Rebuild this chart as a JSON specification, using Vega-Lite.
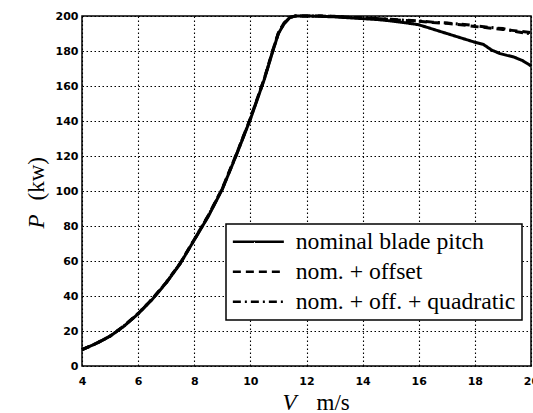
{
  "$schema": "https://vega.github.io/schema/vega-lite/v6.json",
  "width": 449,
  "height": 350,
  "autosize": {"type": "none"},
  "padding": {"left": 82, "top": 16, "right": 2, "bottom": 47},
  "background": "white",
  "config": {
    "view": {"stroke": "black", "strokeWidth": 1.5},
    "axis": {
      "labelFont": "DejaVu Sans",
      "labelFontWeight": "bold",
      "labelFontSize": 11,
      "labelColor": "black",
      "labelFlush": false,
      "labelOverlap": false,
      "labelBound": false,
      "grid": true,
      "gridColor": "black",
      "gridDash": [1.5, 2.5],
      "gridWidth": 1.1,
      "gridOpacity": 1,
      "domain": false,
      "ticks": false,
      "titleFont": "Liberation Serif",
      "titleFontSize": 23,
      "titleFontWeight": "normal",
      "titleColor": "black"
    }
  },
  "data": {
    "values": [
      {"series": "nominal blade pitch", "V": 4, "P": 9.3},
      {"series": "nominal blade pitch", "V": 4.5, "P": 12.8},
      {"series": "nominal blade pitch", "V": 5, "P": 17},
      {"series": "nominal blade pitch", "V": 5.5, "P": 22.8},
      {"series": "nominal blade pitch", "V": 6, "P": 29.8},
      {"series": "nominal blade pitch", "V": 6.5, "P": 38},
      {"series": "nominal blade pitch", "V": 7, "P": 47.5},
      {"series": "nominal blade pitch", "V": 7.5, "P": 58.5},
      {"series": "nominal blade pitch", "V": 8, "P": 72},
      {"series": "nominal blade pitch", "V": 8.5, "P": 85.5},
      {"series": "nominal blade pitch", "V": 9, "P": 101},
      {"series": "nominal blade pitch", "V": 9.5, "P": 120.5},
      {"series": "nominal blade pitch", "V": 10, "P": 141},
      {"series": "nominal blade pitch", "V": 10.5, "P": 164},
      {"series": "nominal blade pitch", "V": 10.8, "P": 180},
      {"series": "nominal blade pitch", "V": 11, "P": 190},
      {"series": "nominal blade pitch", "V": 11.2, "P": 195.5},
      {"series": "nominal blade pitch", "V": 11.4, "P": 199},
      {"series": "nominal blade pitch", "V": 11.6, "P": 200},
      {"series": "nominal blade pitch", "V": 12, "P": 200},
      {"series": "nominal blade pitch", "V": 12.5, "P": 199.8},
      {"series": "nominal blade pitch", "V": 13, "P": 199.5},
      {"series": "nominal blade pitch", "V": 13.5, "P": 199},
      {"series": "nominal blade pitch", "V": 14, "P": 198.5},
      {"series": "nominal blade pitch", "V": 14.5, "P": 198},
      {"series": "nominal blade pitch", "V": 15, "P": 197.2},
      {"series": "nominal blade pitch", "V": 15.5, "P": 196.2},
      {"series": "nominal blade pitch", "V": 16, "P": 195},
      {"series": "nominal blade pitch", "V": 16.5, "P": 192.5},
      {"series": "nominal blade pitch", "V": 17, "P": 190},
      {"series": "nominal blade pitch", "V": 17.5, "P": 187.5},
      {"series": "nominal blade pitch", "V": 18, "P": 185},
      {"series": "nominal blade pitch", "V": 18.3, "P": 183.8},
      {"series": "nominal blade pitch", "V": 18.6, "P": 180.5},
      {"series": "nominal blade pitch", "V": 18.9, "P": 178.5},
      {"series": "nominal blade pitch", "V": 19.4, "P": 176.5},
      {"series": "nominal blade pitch", "V": 19.7, "P": 174.5},
      {"series": "nominal blade pitch", "V": 20, "P": 171.5},

      {"series": "nom. + offset", "V": 4, "P": 9.4},
      {"series": "nom. + offset", "V": 4.5, "P": 12.9},
      {"series": "nom. + offset", "V": 5, "P": 17.1},
      {"series": "nom. + offset", "V": 5.5, "P": 23},
      {"series": "nom. + offset", "V": 6, "P": 30},
      {"series": "nom. + offset", "V": 6.5, "P": 38.3},
      {"series": "nom. + offset", "V": 7, "P": 47.8},
      {"series": "nom. + offset", "V": 7.5, "P": 58.8},
      {"series": "nom. + offset", "V": 8, "P": 72.3},
      {"series": "nom. + offset", "V": 8.5, "P": 86},
      {"series": "nom. + offset", "V": 9, "P": 101.5},
      {"series": "nom. + offset", "V": 9.5, "P": 121},
      {"series": "nom. + offset", "V": 10, "P": 141.5},
      {"series": "nom. + offset", "V": 10.5, "P": 164.5},
      {"series": "nom. + offset", "V": 10.8, "P": 180.5},
      {"series": "nom. + offset", "V": 11, "P": 190.5},
      {"series": "nom. + offset", "V": 11.2, "P": 196},
      {"series": "nom. + offset", "V": 11.4, "P": 199.2},
      {"series": "nom. + offset", "V": 11.6, "P": 200},
      {"series": "nom. + offset", "V": 12, "P": 200},
      {"series": "nom. + offset", "V": 12.5, "P": 200},
      {"series": "nom. + offset", "V": 13, "P": 199.8},
      {"series": "nom. + offset", "V": 13.5, "P": 199.3},
      {"series": "nom. + offset", "V": 14, "P": 199},
      {"series": "nom. + offset", "V": 14.5, "P": 198.5},
      {"series": "nom. + offset", "V": 15, "P": 198},
      {"series": "nom. + offset", "V": 15.5, "P": 197.5},
      {"series": "nom. + offset", "V": 16, "P": 197},
      {"series": "nom. + offset", "V": 16.5, "P": 196.3},
      {"series": "nom. + offset", "V": 17, "P": 195.8},
      {"series": "nom. + offset", "V": 17.5, "P": 195},
      {"series": "nom. + offset", "V": 18, "P": 194},
      {"series": "nom. + offset", "V": 18.5, "P": 193.2},
      {"series": "nom. + offset", "V": 19, "P": 192.3},
      {"series": "nom. + offset", "V": 19.5, "P": 191.5},
      {"series": "nom. + offset", "V": 20, "P": 190.5},

      {"series": "nom. + off. + quadratic", "V": 4, "P": 9.3},
      {"series": "nom. + off. + quadratic", "V": 4.5, "P": 12.8},
      {"series": "nom. + off. + quadratic", "V": 5, "P": 17},
      {"series": "nom. + off. + quadratic", "V": 5.5, "P": 22.9},
      {"series": "nom. + off. + quadratic", "V": 6, "P": 29.9},
      {"series": "nom. + off. + quadratic", "V": 6.5, "P": 38.2},
      {"series": "nom. + off. + quadratic", "V": 7, "P": 47.6},
      {"series": "nom. + off. + quadratic", "V": 7.5, "P": 58.6},
      {"series": "nom. + off. + quadratic", "V": 8, "P": 72.1},
      {"series": "nom. + off. + quadratic", "V": 8.5, "P": 85.8},
      {"series": "nom. + off. + quadratic", "V": 9, "P": 101.2},
      {"series": "nom. + off. + quadratic", "V": 9.5, "P": 120.8},
      {"series": "nom. + off. + quadratic", "V": 10, "P": 141.3},
      {"series": "nom. + off. + quadratic", "V": 10.5, "P": 164.2},
      {"series": "nom. + off. + quadratic", "V": 10.8, "P": 180.2},
      {"series": "nom. + off. + quadratic", "V": 11, "P": 190.2},
      {"series": "nom. + off. + quadratic", "V": 11.2, "P": 195.8},
      {"series": "nom. + off. + quadratic", "V": 11.4, "P": 199.1},
      {"series": "nom. + off. + quadratic", "V": 11.6, "P": 200},
      {"series": "nom. + off. + quadratic", "V": 12, "P": 200},
      {"series": "nom. + off. + quadratic", "V": 12.5, "P": 200},
      {"series": "nom. + off. + quadratic", "V": 13, "P": 199.7},
      {"series": "nom. + off. + quadratic", "V": 13.5, "P": 199.2},
      {"series": "nom. + off. + quadratic", "V": 14, "P": 199},
      {"series": "nom. + off. + quadratic", "V": 14.5, "P": 198.6},
      {"series": "nom. + off. + quadratic", "V": 15, "P": 198.1},
      {"series": "nom. + off. + quadratic", "V": 15.5, "P": 197.6},
      {"series": "nom. + off. + quadratic", "V": 16, "P": 197.2},
      {"series": "nom. + off. + quadratic", "V": 16.5, "P": 196.5},
      {"series": "nom. + off. + quadratic", "V": 17, "P": 196},
      {"series": "nom. + off. + quadratic", "V": 17.5, "P": 195.3},
      {"series": "nom. + off. + quadratic", "V": 18, "P": 194.5},
      {"series": "nom. + off. + quadratic", "V": 18.5, "P": 193.5},
      {"series": "nom. + off. + quadratic", "V": 19, "P": 192.8},
      {"series": "nom. + off. + quadratic", "V": 19.5, "P": 191},
      {"series": "nom. + off. + quadratic", "V": 20, "P": 189.8}
    ]
  },
  "layer": [
    {
      "mark": {"type": "line", "color": "black", "strokeWidth": 3},
      "encoding": {
        "x": {
          "field": "V",
          "type": "quantitative",
          "scale": {"domain": [4, 20], "nice": false, "zero": false},
          "axis": {
            "values": [4, 6, 8, 10, 12, 14, 16, 18, 20],
            "labelPadding": 9,
            "title": "V",
            "titleFontStyle": "italic",
            "titleX": 200,
            "titleY": 43,
            "titleAlign": "left",
            "titleBaseline": "alphabetic"
          }
        },
        "y": {
          "field": "P",
          "type": "quantitative",
          "scale": {"domain": [0, 200], "nice": false},
          "axis": {
            "values": [0, 20, 40, 60, 80, 100, 120, 140, 160, 180, 200],
            "labelPadding": 4,
            "title": "P",
            "titleFontStyle": "italic",
            "titleAngle": 270,
            "titleX": -39,
            "titleY": 212,
            "titleAlign": "left",
            "titleBaseline": "alphabetic"
          }
        },
        "strokeDash": {
          "field": "series",
          "type": "nominal",
          "scale": {
            "domain": ["nominal blade pitch", "nom. + offset", "nom. + off. + quadratic"],
            "range": [[1, 0], [8, 5], [8, 4, 2, 4]]
          },
          "legend": {
            "orient": "none",
            "legendX": 144,
            "legendY": 208,
            "title": null,
            "symbolType": "M-1.1,0H4",
            "symbolSize": 400,
            "symbolStrokeWidth": 2.5,
            "symbolStrokeColor": "black",
            "symbolFillColor": "transparent",
            "labelFont": "Liberation Serif",
            "labelFontSize": 23.7,
            "labelColor": "black",
            "labelLimit": 400,
            "labelOffset": 40,
            "padding": 6,
            "rowPadding": 5,
            "strokeColor": "black",
            "fillColor": "white",
            "encode": {"legend": {"update": {"strokeWidth": {"value": 1.5}}}}
          }
        }
      }
    },
    {
      "mark": {"type": "point", "opacity": 0},
      "encoding": {
        "x": {
          "field": "V",
          "type": "quantitative",
          "axis": {
            "orient": "top",
            "labels": false,
            "grid": false,
            "title": "m/s",
            "titleX": 234,
            "titleY": 393,
            "titleAlign": "left",
            "titleBaseline": "alphabetic"
          }
        },
        "y": {
          "field": "P",
          "type": "quantitative",
          "axis": {
            "orient": "right",
            "labels": false,
            "grid": false,
            "title": "(kw)",
            "titleAngle": 270,
            "titleX": -488,
            "titleY": 184,
            "titleAlign": "left",
            "titleBaseline": "alphabetic"
          }
        }
      }
    }
  ],
  "resolve": {"axis": {"x": "independent", "y": "independent"}}
}
